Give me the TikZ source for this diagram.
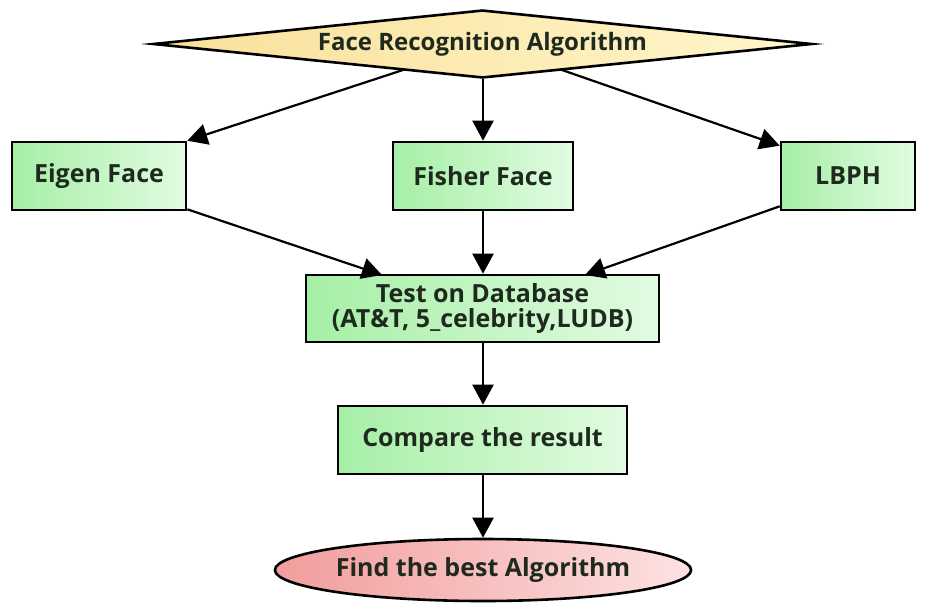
\documentclass[tikz,border=0pt]{standalone}
\usepackage{fontspec}
\setmainfont{Open Sans}
\usetikzlibrary{shapes.geometric,arrows.meta}
\definecolor{txt}{HTML}{1F2A1F}
\definecolor{gA}{HTML}{A6EFA6}
\definecolor{gB}{HTML}{E2FBE2}
\definecolor{yA}{HTML}{F9E09A}
\definecolor{yB}{HTML}{FFF6CC}
\definecolor{pA}{HTML}{F29C9C}
\definecolor{pB}{HTML}{FDE2E2}
\tikzset{
  lbl/.style={text=txt, font=\fontsize{25}{25}\selectfont\bfseries},
  box/.style={lbl, draw=black, line width=2.6pt, left color=gA, right color=gB, inner sep=0pt, align=center},
  conn/.style={line width=2.2pt, -{Triangle[length=20pt,width=21pt]}},
}
\begin{document}
\begin{tikzpicture}[x=1pt,y=-1pt]
\useasboundingbox (0,0) rectangle (925,603);
\node[diamond, draw=black, line width=2.6pt, left color=yA, right color=yB, aspect=9.7, minimum width=659pt, minimum height=68pt, inner sep=0pt] (fra) at (482.5,44) {};
\node[lbl, font=\fontsize{24}{24}\selectfont\bfseries] at (fra.center) {Face Recognition Algorithm};
\node[box, minimum width=174pt, minimum height=68pt] (eig) at (99,176) {Eigen Face};
\node[box, minimum width=180pt, minimum height=68pt] (fis) at (483,176) {Fisher Face};
\node[box, minimum width=134pt, minimum height=68pt] (lbp) at (848,176) {LBPH};
\node[box, minimum width=353pt, minimum height=67pt] (tst) at (482.5,308.5) {Test on Database\\(AT\&T, 5\_celebrity,LUDB)};
\node[box, minimum width=289pt, minimum height=68pt] (cmp) at (482.5,440) {Compare the result};
\node[lbl, ellipse, draw=black, line width=2.6pt, left color=pA, right color=pB, minimum width=408pt, minimum height=62pt, inner sep=0pt] (fnd) at (483,570) {Find the best Algorithm};
\coordinate (d1) at (403,70);
\coordinate (d2) at (562,70);
\draw[conn] (d1) -- (eig.north east);
\draw[conn] (fra.south -| fis.north) -- (fis.north);
\draw[conn] (d2) -- ([yshift=-5pt]lbp.north west);
\coordinate (t1) at (382,275);
\coordinate (t2) at (585,275);
\draw[conn] ([yshift=2pt]eig.south east) -- (t1);
\draw[conn] (fis.south) -- (tst.north -| fis.south);
\draw[conn] ([yshift=5pt]lbp.south west) -- (t2);
\draw[conn] (tst.south -| fis.south) -- (cmp.north -| fis.south);
\draw[conn] (cmp.south -| fis.south) -- (fnd.north);
\end{tikzpicture}
\end{document}
